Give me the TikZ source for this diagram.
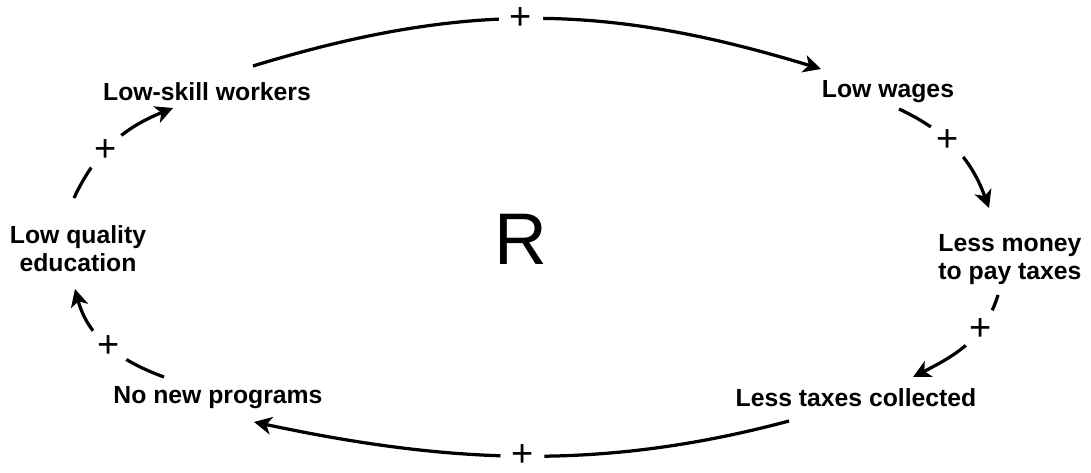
\documentclass[tikz,border=0pt]{standalone}
\usepackage{fontspec}
\setmainfont{Liberation Sans}
\usetikzlibrary{arrows.meta,positioning,calc}
\tikzset{
  varnode/.style={
    font=\fontsize{17.6}{19.9}\selectfont\bfseries,
    align=center, inner sep=0pt
  },
  loopsign/.style={
    circle, fill=white, inner sep=0pt, minimum size=1.1cm,
    font=\fontsize{27}{27}\selectfont
  },
  link/.style={
    -{Stealth[length=12.5pt, width=12.5pt, inset=3.5pt]}, line width=2.3pt
  },
}
\begin{document}
\begin{tikzpicture}[x=0.025cm, y=0.025cm]
  \useasboundingbox (0,0) rectangle (1091,473);

  % loop variables
  \node[varnode] (lsw) at (207,381) {Low-skill workers};
  \node[varnode] (lw) at (888,381) {Low wages};
  \node[varnode] (lm) at (1010,213) {Less money\\to pay taxes};
  \node[varnode] (lt) at (856,75) {Less taxes collected};
  \node[varnode] (np) at (218,75) {No new programs};
  \node[varnode] (lq) at (78,224) {Low quality\\education};
  \node[font=\fontsize{52}{52}\selectfont] (loop) at (521,234) {R};

  % links, clockwise
  \draw[link] ([shift={(46,26)}]lsw.center) to[out=17, in=163]
    node[loopsign, pos=.47] {+} ([shift={(-67,23)}]lw.center);
  \draw[link] ([shift={(11,-17)}]lw.center) to[out=-25, in=110]
    node[loopsign, pos=.42] {+} ([shift={(-21,52)}]lm.center);
  \draw[link] ([shift={(-12,-35)}]lm.center) to[out=-107, in=27]
    node[loopsign, pos=.31] {+} ([shift={(57,21)}]lt.center);
  \draw[link] ([shift={(-67,-23)}]lt.center) to[out=-165, in=-12, looseness=.94]
    node[loopsign, pos=.5] {+} ([shift={(36,-24)}]np.center);
  \draw[link] ([shift={(-54,21)}]np.center) to[out=160, in=-75]
    node[loopsign, pos=.48] {+} ([shift={(-3,-40)}]lq.center);
  \draw[link] ([shift={(-4,51)}]lq.center) to[out=65, in=-158]
    node[loopsign, pos=.41] {+} ([shift={(-34,-16)}]lsw.center);
\end{tikzpicture}
\end{document}
